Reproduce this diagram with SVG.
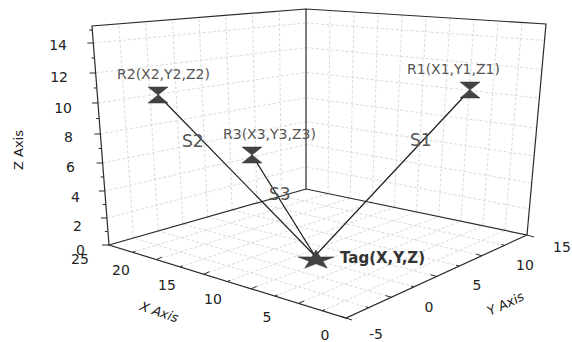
<svg xmlns="http://www.w3.org/2000/svg" width="572" height="342" viewBox="0 0 572 342">
<style>
text{font-family:"DejaVu Sans",Verdana,"Liberation Sans",sans-serif}
.grid{stroke:#d0d0d0;stroke-width:0.8;stroke-dasharray:3 2;fill:none}
.box{stroke:#2a2a2a;stroke-width:1.2;fill:none}
.tk{stroke:#2a2a2a;stroke-width:1;fill:none}
.num{font-size:14px;fill:#222}
.ttl{font-size:13px;fill:#222}
.lbl{font-size:14px;fill:#555}
.tag{font-size:15px;font-weight:bold;fill:#333}
.sl{font-size:17px;fill:#555}
.edge{stroke:#1a1a1a;stroke-width:1.2;fill:none}
.mk{fill:#434343;stroke:#333;stroke-width:0.5}
</style>
<defs>
<path id="hg" d="M-10,-8 H10 L0,0 Z M0,0 L10,8 H-10 Z"/>
</defs>
<rect width="572" height="342" fill="#fff"/>
<g id="grid">
<path class="grid" d="M106.9,218 L306,166.8 M104.8,191 L306,144.6 M102.6,163 L306,121.6 M100.4,134 L306,97.8 M98,103 L306,72.3 M95.6,73 L306,47.6 M93.3,43 L306,23"/>
<path class="grid" d="M306,166.8 L529.3,209 M306,144.6 L531.7,183 M306,121.6 L534.1,156 M306,97.8 L536.6,128 M306,72.3 L539.3,98.2 M306,47.6 L541.9,69.3 M306,23 L544.5,40.4"/>
<path class="grid" d="M133.6,238 L118.8,23.9 M158.3,231 L145.5,21.8 M182.9,224 L172.3,19.6 M207.5,217 L199,17.5 M232.1,210 L225.8,15.4 M256.8,203 L252.5,13.3 M281.4,196 L279.3,11.1"/>
<path class="grid" d="M328.1,193.6 L330,10.5 M350.2,198.2 L354,12 M372.3,202.8 L378,13.5 M394.4,207.4 L402,15 M416.5,212 L426,16.5 M438.6,216.6 L450,18 M460.7,221.2 L474,19.5 M482.8,225.8 L498,21 M504.9,230.4 L522,22.5"/>
<path class="grid" d="M322.3,310.7 L504.9,230.4 M298.6,303.4 L482.8,225.8 M274.9,296.1 L460.7,221.2 M251.2,288.8 L438.6,216.6 M227.5,281.5 L416.5,212 M203.8,274.2 L394.4,207.4 M180.1,266.9 L372.3,202.8 M156.4,259.6 L350.2,198.2 M132.7,252.3 L328.1,193.6"/>
<path class="grid" d="M368.6,307.6 L133.6,238 M391.3,297.3 L158.3,231 M413.9,286.9 L182.9,224 M436.5,276.5 L207.5,217 M459.1,266.1 L232.1,210 M481.8,255.8 L256.8,203 M504.4,245.4 L281.4,196"/>
</g>
<g id="axes">
<path class="box" d="M109,245 L92,26 L306,9 L546,24 L527,235 L306,189 L109,245 L346,318 L527,235 M306,9 L306,189"/>
<path class="tk" d="M109,245 L102,245 M107.9,231.5 L104.9,231.5 M106.9,218 L100.9,218 M105.8,204.5 L102.8,204.5 M104.8,191 L98.8,191 M103.7,177 L100.7,177 M102.6,163 L96.6,163 M101.5,148.5 L98.5,148.5 M100.4,134 L94.4,134 M99.2,118.5 L96.2,118.5 M98,103 L92,103 M96.8,88 L93.8,88 M95.6,73 L89.6,73 M94.5,58 L91.5,58 M93.3,43 L87.3,43 M92.3,30 L89.3,30"/>
<path class="tk" d="M322.3,310.7 l2.7,-1.2 M298.6,303.4 l5.5,-2.5 M274.9,296.1 l2.7,-1.2 M251.2,288.8 l5.5,-2.5 M227.5,281.5 l2.7,-1.2 M203.8,274.2 l5.5,-2.5 M180.1,266.9 l2.7,-1.2 M156.4,259.6 l5.5,-2.5 M132.7,252.3 l2.7,-1.2 M346,318 l-6,-2 M346,318 l6,2"/>
<path class="tk" d="M368.6,307.6 l-2.9,-0.9 M391.3,297.3 l-5.7,-1.8 M413.9,286.9 l-2.9,-0.9 M436.5,276.5 l-5.7,-1.8 M459.1,266.1 l-2.9,-0.9 M481.8,255.8 l-5.7,-1.8 M504.4,245.4 l-2.9,-0.9 M527,235 l7,2"/>
<g class="num" text-anchor="end">
<text x="67" y="50">14</text>
<text x="68" y="82">12</text>
<text x="72" y="113">10</text>
<text x="73" y="142">8</text>
<text x="75" y="172">6</text>
<text x="80" y="202">4</text>
<text x="82" y="231">2</text>
<text x="85" y="255">0</text>
</g>
<g class="num" text-anchor="middle">
<text x="80" y="264">25</text>
<text x="121" y="275">20</text>
<text x="167" y="290">15</text>
<text x="213" y="304">10</text>
<text x="267" y="322">5</text>
<text x="325" y="340">0</text>
</g>
<g class="num" text-anchor="middle">
<text x="376" y="339">-5</text>
<text x="429" y="312">0</text>
<text x="477" y="290">5</text>
<text x="525" y="270">10</text>
<text x="562" y="252">15</text>
</g>
<text class="ttl" transform="translate(23,150) rotate(-90)" text-anchor="middle" font-size="12">Z Axis</text>
<text class="ttl" transform="translate(157,316) rotate(19) skewX(-12)" text-anchor="middle">X Axis</text>
<text class="ttl" transform="translate(507,308) rotate(-25) skewX(-8)" text-anchor="middle">Y Axis</text>
</g>
<g id="connectors">
<line class="edge" x1="315" y1="256" x2="158" y2="95"/>
<line class="edge" x1="315" y1="256" x2="252" y2="155"/>
<line class="edge" x1="315" y1="256" x2="470" y2="90"/>
<text class="sl" x="182" y="147">S2</text>
<text class="sl" x="410" y="146">S1</text>
<text class="sl" x="269" y="200">S3</text>
</g>
<g id="R2">
<use href="#hg" class="mk" x="158" y="95"/>
<text class="lbl" x="117" y="79">R2(X2,Y2,Z2)</text>
</g>
<g id="R3">
<use href="#hg" class="mk" x="252" y="155"/>
<text class="lbl" x="223" y="139">R3(X3,Y3,Z3)</text>
</g>
<g id="R1">
<use href="#hg" class="mk" x="470" y="90"/>
<text class="lbl" x="407" y="74">R1(X1,Y1,Z1)</text>
</g>
<g id="Tag">
<polygon class="mk" points="316,250 320.2,256.9 334.1,256.9 322.9,261.2 327.2,268.1 316,263.8 304.8,268.1 309.1,261.2 297.9,256.9 311.8,256.9"/>
<text class="tag" x="340" y="263">Tag(X,Y,Z)</text>
</g>
</svg>
